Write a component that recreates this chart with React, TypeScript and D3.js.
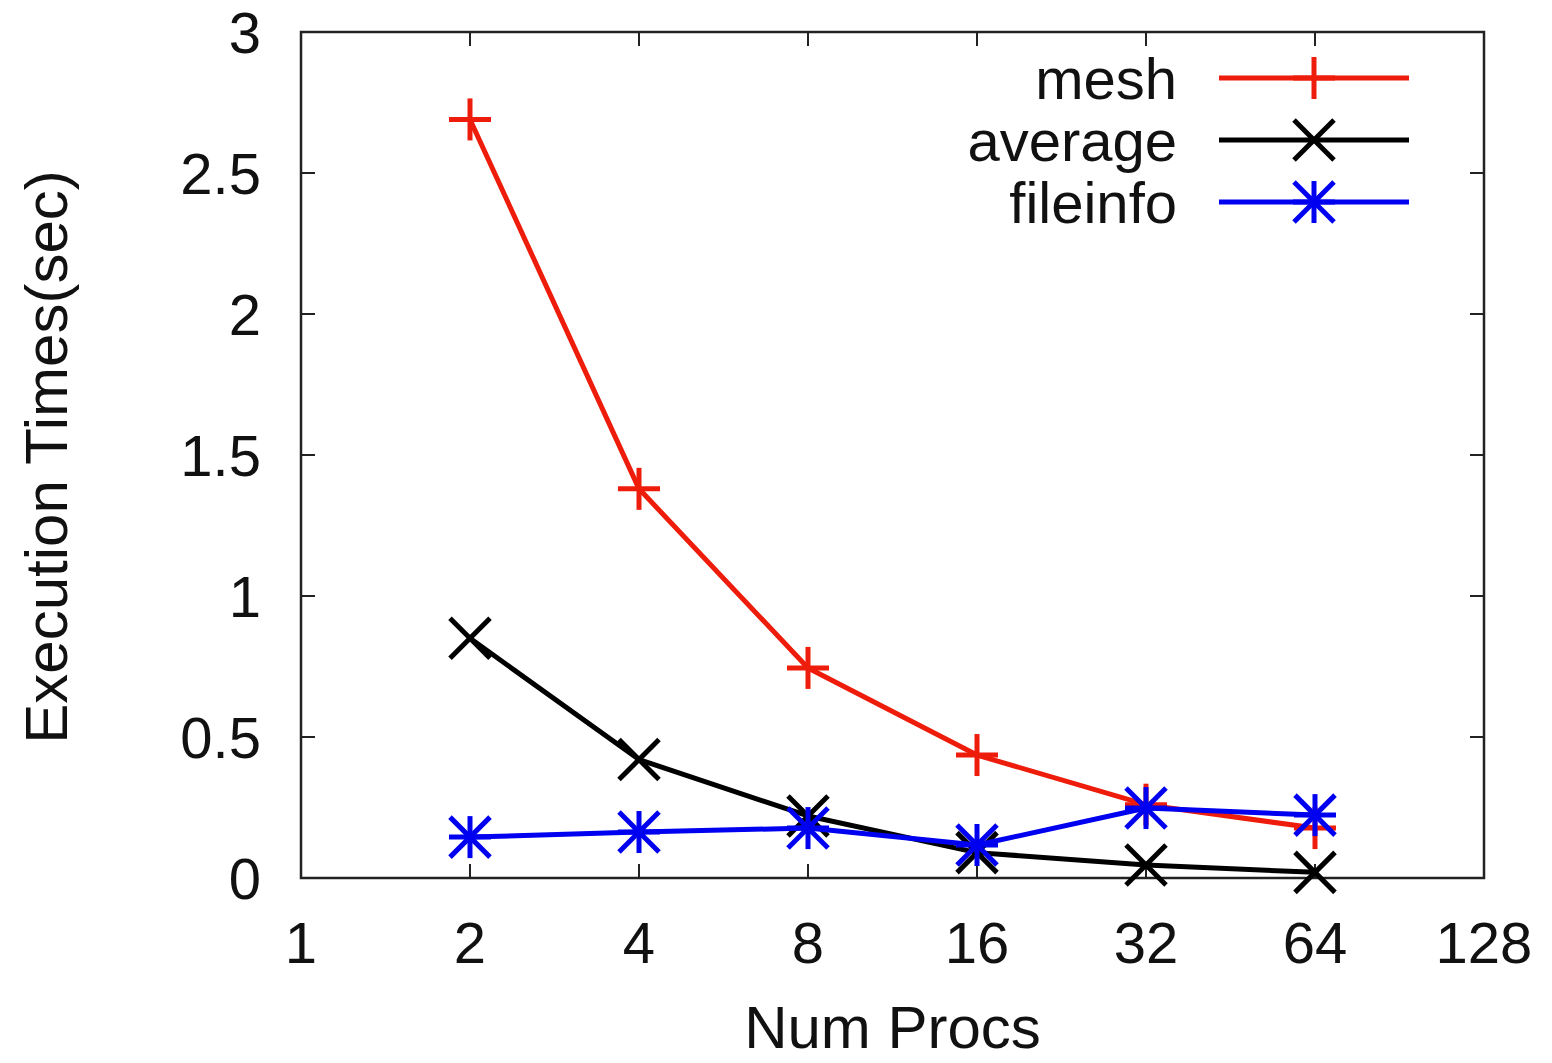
import React from 'react';
import * as d3 from 'd3';

const procs = [2, 4, 8, 16, 32, 64];
const meshTimes = [2.69, 1.38, 0.745, 0.436, 0.26, 0.177];
const averageTimes = [0.85, 0.42, 0.22, 0.09, 0.046, 0.02];
const fileinfoTimes = [0.145, 0.163, 0.177, 0.117, 0.248, 0.223];

const xTicks = [1, 2, 4, 8, 16, 32, 64, 128];
const yTicks = [0, 0.5, 1, 1.5, 2, 2.5, 3];

const series = [
  { name: 'mesh', values: meshTimes, color: '#ee1c0a', marker: 'plus' },
  { name: 'average', values: averageTimes, color: '#000000', marker: 'cross' },
  { name: 'fileinfo', values: fileinfoTimes, color: '#0000f0', marker: 'star' },
];

const W = 1552;
const H = 1063;
const margin = { top: 32, right: 68, bottom: 185, left: 301 };
const FONT = '"Liberation Sans", Arial, Helvetica, sans-serif';

const Marker = ({ type, x, y, color }: { type: string; x: number; y: number; color: string }) => {
  const s = 21;
  const d = 20;
  const sw = 5;
  const parts: JSX.Element[] = [];
  if (type === 'plus' || type === 'star') {
    parts.push(<line key="v" x1={x} y1={y - s} x2={x} y2={y + s} />);
    parts.push(<line key="h" x1={x - s} y1={y} x2={x + s} y2={y} />);
  }
  if (type === 'cross' || type === 'star') {
    parts.push(<line key="d1" x1={x - d} y1={y - d} x2={x + d} y2={y + d} />);
    parts.push(<line key="d2" x1={x - d} y1={y + d} x2={x + d} y2={y - d} />);
  }
  return <g stroke={color} strokeWidth={sw}>{parts}</g>;
};

export default function App() {
  const x = d3.scaleLog().base(2).domain([1, 128]).range([margin.left, W - margin.right]);
  const y = d3.scaleLinear().domain([0, 3]).range([H - margin.bottom, margin.top]);

  const [x0, x1] = x.range();
  const [y0, y1] = y.range();

  const line = d3.line<number>()
    .x((_, i) => x(procs[i]))
    .y(d => y(d));

  const tick = 14;

  return (
    <svg width={W} height={H} style={{ position: 'absolute', left: 0, top: 0, background: '#fff' }}
      fontFamily={FONT}>
      <rect x={0} y={0} width={W} height={H} fill="#fff" />

      {/* ticks, mirrored on all sides */}
      <g stroke="#222" strokeWidth={2}>
        {yTicks.map(t => (
          <g key={'y' + t}>
            <line x1={x0} x2={x0 + tick} y1={y(t)} y2={y(t)} />
            <line x1={x1} x2={x1 - tick} y1={y(t)} y2={y(t)} />
          </g>
        ))}
        {xTicks.map(t => (
          <g key={'x' + t}>
            <line x1={x(t)} x2={x(t)} y1={y0} y2={y0 - tick} />
            <line x1={x(t)} x2={x(t)} y1={y1} y2={y1 + tick} />
          </g>
        ))}
      </g>

      <rect x={x0} y={y1} width={x1 - x0} height={y0 - y1} fill="none" stroke="#222" strokeWidth={2.5} />

      {/* tick labels */}
      <g fontSize={58} fill="#111">
        {yTicks.map(t => (
          <text key={'yl' + t} x={x0 - 40} y={y(t)} dy="0.36em" textAnchor="end">{String(t)}</text>
        ))}
        {xTicks.map(t => (
          <text key={'xl' + t} x={x(t)} y={963} textAnchor="middle">{String(t)}</text>
        ))}
      </g>

      <text x={(x0 + x1) / 2} y={1048} fontSize={60} textAnchor="middle" fill="#111">Num Procs</text>
      <text transform={`translate(67,${(y0 + y1) / 2 + 2}) rotate(-90)`} fontSize={60} textAnchor="middle" fill="#111">
        Execution Times(sec)
      </text>

      {/* series */}
      {series.map(s => (
        <g key={s.name}>
          <path d={line(s.values) || ''} fill="none" stroke={s.color} strokeWidth={5} strokeLinejoin="round" />
          {s.values.map((v, i) => (
            <Marker key={i} type={s.marker} x={x(procs[i])} y={y(v)} color={s.color} />
          ))}
        </g>
      ))}

      {/* legend */}
      {series.map((s, i) => {
        const ly = 78 + i * 62;
        return (
          <g key={'lg' + s.name}>
            <text x={1177} y={ly} dy="0.36em" fontSize={58} textAnchor="end" fill="#111">{s.name}</text>
            <line x1={1219} x2={1409} y1={ly} y2={ly} stroke={s.color} strokeWidth={5} />
            <Marker type={s.marker} x={1314} y={ly} color={s.color} />
          </g>
        );
      })}
    </svg>
  );
}
